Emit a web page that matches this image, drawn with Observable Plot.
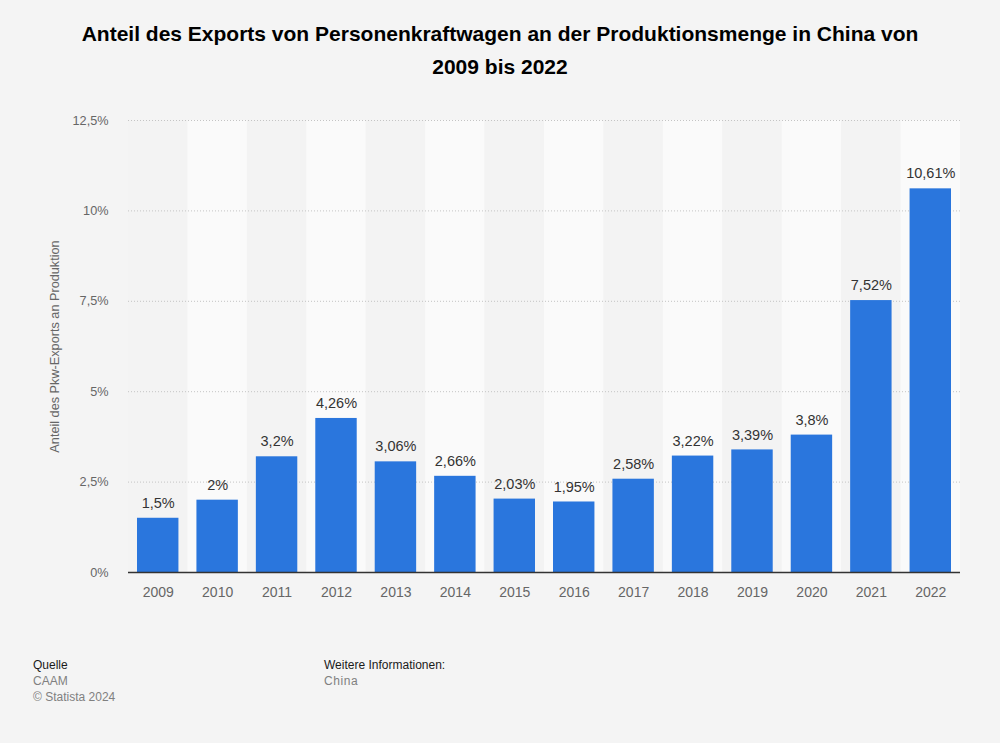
<!DOCTYPE html>
<html>
<head>
<meta charset="utf-8">
<script src="https://cdn.jsdelivr.net/npm/d3@7"></script>
<script src="https://cdn.jsdelivr.net/npm/@observablehq/plot@0.6"></script>
<style>
  html, body { margin: 0; padding: 0; background: #f4f4f4; width: 1000px; height: 743px; overflow: hidden; font-family: "Liberation Sans", Arial, Helvetica, sans-serif; }
  #title { position: absolute; left: 0; top: 17px; width: 1000px; text-align: center; font-size: 21px; font-weight: bold; color: #000; line-height: 33px; }
  #chart { position: absolute; left: 0; top: 100px; }
  .foot { position: absolute; font-size: 12px; line-height: 16px; }
  .foot .h { color: #1a1a1a; }
  .foot .g { color: #808080; }
</style>
</head>
<body>
<div id="title">Anteil des Exports von Personenkraftwagen an der Produktionsmenge in China von<br>2009 bis 2022</div>
<div id="chart"></div>
<div class="foot" style="left:33px; top:657px;"><div class="h">Quelle</div><div class="g">CAAM</div><div class="g">© Statista 2024</div></div>
<div class="foot" style="left:324px; top:657px;"><div class="h">Weitere Informationen:</div><div class="g" style="letter-spacing:0.6px">China</div></div>
<script>
const years = ["2009","2010","2011","2012","2013","2014","2015","2016","2017","2018","2019","2020","2021","2022"];
const values = [1.5, 2, 3.2, 4.26, 3.06, 2.66, 2.03, 1.95, 2.58, 3.22, 3.39, 3.8, 7.52, 10.61];
const yTicks = [0, 2.5, 5, 7.5, 10, 12.5];
const yLabel = "Anteil des Pkw-Exports an Produktion";

const data = years.map((y, i) => ({year: y, value: values[i], i}));
const fmt = v => String(v).replace(".", ",") + "%";

const chart = Plot.plot({
  width: 1000,
  height: 520,
  marginLeft: 128,
  marginRight: 40,
  marginTop: 20,
  marginBottom: 48,
  style: {background: "transparent", fontFamily: "'Liberation Sans', Arial, Helvetica, sans-serif"},
  x: {domain: years, padding: 0, round: false, label: null},
  y: {domain: [0, 12.5], ticks: yTicks, label: null},
  marks: [
    Plot.barY(data, {x: "year", y1: 0, y2: 12.5, fill: d => d.i % 2 ? "#fafafa" : "#f3f3f3"}),
    Plot.gridY(yTicks.filter(t => t > 0), {stroke: "#c4c4c4", strokeOpacity: 1, strokeDasharray: "1,2"}),
    Plot.barY(data, {x: "year", y: "value", fill: "#2a76dd", insetLeft: 9, insetRight: 9}),
    Plot.text(data, {x: "year", y: "value", text: d => fmt(d.value), dy: -15, fill: "#333", fontSize: 14.5}),
    Plot.ruleY([0], {stroke: "#333", strokeWidth: 1.5}),
    Plot.axisX({tickSize: 0, tickPadding: 15, fontSize: 14, color: "#666", label: null}),
    Plot.axisY({ticks: yTicks, tickSize: 0, tickPadding: 20, tickFormat: fmt, fontSize: 12.7, color: "#666", label: yLabel, labelAnchor: "center", labelArrow: "none", labelOffset: 79})
  ]
});
document.getElementById("chart").appendChild(chart);
</script>
</body>
</html>
